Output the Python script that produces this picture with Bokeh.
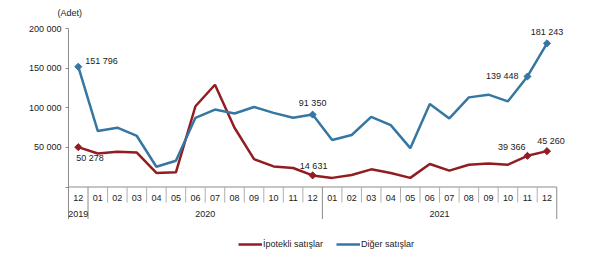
from bokeh.plotting import figure
from bokeh.models import (Range1d, FixedTicker, ColumnDataSource, Legend, LegendItem, Title)
from bokeh.embed import file_html
from bokeh.resources import INLINE
from bokeh.core.properties import value

# ---- data ----
months = ["12", "01", "02", "03", "04", "05", "06", "07", "08", "09", "10", "11", "12",
          "01", "02", "03", "04", "05", "06", "07", "08", "09", "10", "11", "12"]
years = ["2019", "2020", "2021"]
year_first = [0, 1, 13]
year_last = [0, 12, 24]
ipotekli = [50278, 42300, 44400, 43500, 17700, 18500, 101900, 129000, 74800, 35200, 26000, 24000, 14631,
            11500, 15200, 22300, 17700, 11500, 29000, 20600, 28100, 29800, 28100, 39366, 45260]
diger = [151796, 70600, 74800, 64400, 25600, 33100, 87300, 97700, 92700, 101000, 93500, 87300, 91350,
         59400, 65600, 88500, 78100, 49000, 104800, 86500, 113100, 116500, 108100, 139448, 181243]
labeled = [0, 12, 23, 24]
y_ticks = [0, 50000, 100000, 150000, 200000]
series_names = ["İpotekli satışlar", "Diğer satışlar"]
unit_label = "(Adet)"

RED = "#931c22"
BLUE = "#3577a2"
GRID = "#8c8c8c"
FONT = "Liberation Sans"

PX = 200000 / 158.5          # data units per pixel (vertical)
CAT = 19.53                  # pixels per category
Y_TOP = 200000 + 6 * PX      # frame top
Y_BOTTOM = -82.5 * PX        # frame bottom (window bottom)
BOX_Y = -32 * PX             # bottom of category box
MONTH_Y = -10.5 * PX
YEAR_Y = -26.5 * PX
SEP_Y = -15.5 * PX
X_START = -0.5 - 3 / CAT
X_END = X_START + 535 / CAT

x = list(range(len(months)))

p = figure(width=600, height=269, output_backend="svg", toolbar_location=None,
           x_axis_location=None, y_axis_location="left",
           x_range=Range1d(X_START, X_END), y_range=Range1d(Y_BOTTOM, Y_TOP),
           min_border_left=65, min_border_right=0, min_border_top=22, min_border_bottom=0)
p.outline_line_color = None
p.grid.visible = False
p.background_fill_color = "white"
p.border_fill_color = "white"

ax = p.yaxis[0]
ax.ticker = FixedTicker(ticks=y_ticks, minor_ticks=[])
ax.major_label_overrides = {t: ("" if t == 0 else f"{t:,}".replace(",", " ")) for t in y_ticks}
ax.axis_line_color = None
ax.major_tick_line_color = GRID
ax.major_tick_out = 0
ax.major_tick_in = 3
ax.minor_tick_line_color = None
ax.major_label_standoff = 4
ax.major_label_text_font = FONT
ax.major_label_text_font_size = "9px"
ax.major_label_text_color = "#222222"

# value axis line and category box
p.segment(x0=[-0.5], y0=[BOX_Y], x1=[-0.5], y1=[200000], line_color=GRID, line_width=1)
p.segment(x0=[-0.5], y0=[0], x1=[24.5], y1=[0], line_color=GRID, line_width=1)
month_seps = [i + 0.5 for i in range(24) if i not in (0, 12)]
p.segment(x0=month_seps, y0=[0] * len(month_seps), x1=month_seps, y1=[SEP_Y] * len(month_seps),
          line_color="#b0b0b0", line_width=1)
year_seps = [0.5, 12.5, 24.5]
p.segment(x0=year_seps, y0=[0] * 3, x1=year_seps, y1=[BOX_Y] * 3, line_color=GRID, line_width=1)

p.text(x=x, y=[MONTH_Y] * len(x), text=months, text_align="center", text_baseline="middle",
       text_font=value(FONT), text_font_size="9px", text_color="#222222")
year_x = [(a + b) / 2 for a, b in zip(year_first, year_last)]
p.text(x=year_x, y=[YEAR_Y] * 3, text=years, text_align="center", text_baseline="middle",
       text_font=value(FONT), text_font_size="9px", text_color="#222222")

# series
r_red = p.line(x, ipotekli, line_color=RED, line_width=2.5)
r_blue = p.line(x, diger, line_color=BLUE, line_width=2.5)

for vals, col in ((ipotekli, RED), (diger, BLUE)):
    p.scatter([x[i] for i in labeled], [vals[i] for i in labeled], marker="square", angle=0.785398,
              size=5, fill_color=col, line_color=col, line_width=1)

def fmt(v):
    return f"{v:,}".replace(",", " ")

# label placement (screen px): align, dx, dy (positive = down)
red_pos = {0: ("left", -2, 11), 12: ("center", 1, -9), 23: ("right", -2, -9), 24: ("center", 4, -10)}
blue_pos = {0: ("left", 7, -6), 12: ("center", 0, -12), 23: ("right", -9, 0), 24: ("center", 0, -11)}
for vals, pos in ((ipotekli, red_pos), (diger, blue_pos)):
    src = ColumnDataSource(dict(
        x=[x[i] for i in labeled], y=[vals[i] for i in labeled],
        t=[fmt(vals[i]) for i in labeled],
        a=[pos[i][0] for i in labeled], dx=[pos[i][1] for i in labeled], dy=[pos[i][2] for i in labeled]))
    p.text(x="x", y="y", text="t", source=src, text_align="a", x_offset="dx", y_offset="dy",
           text_baseline="middle", text_font=value(FONT), text_font_size="9px", text_color="#1a1a1a")

legend = Legend(items=[LegendItem(label=series_names[0], renderers=[r_red]),
                       LegendItem(label=series_names[1], renderers=[r_blue])],
                orientation="horizontal", location=(173, 20), glyph_width=24, glyph_height=10,
                label_standoff=1, spacing=13, padding=0, margin=0, border_line_color=None,
                background_fill_alpha=0, label_text_font=FONT, label_text_font_size="9px",
                label_height=10, label_text_color="#222222")
p.add_layout(legend, "center")

p.add_layout(Title(text=unit_label, text_font=FONT, text_font_size="9px", text_font_style="normal",
                   text_color="#222222", align="left", offset=-8, standoff=10), "above")

open("out.html", "w").write(file_html(p, INLINE))
